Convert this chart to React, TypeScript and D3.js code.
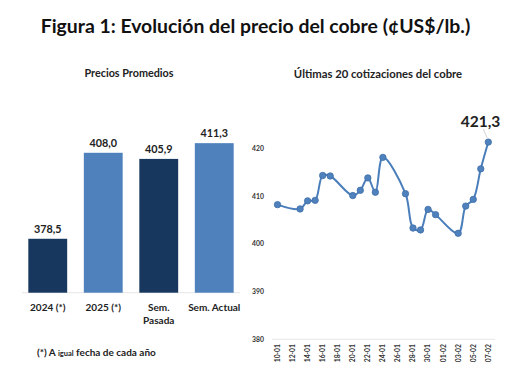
import React from "react";
import * as d3 from "d3";

const barCategories: string[][] = [["2024 (*)"], ["2025 (*)"], ["Sem.", "Pasada"], ["Sem. Actual"]];
const barValues = [378.5, 408.0, 405.9, 411.3];
const barColors = ["#17375E", "#4F81BD", "#17375E", "#4F81BD"];

const lineDates = [
  "2025-01-10", "2025-01-13", "2025-01-14", "2025-01-15", "2025-01-16", "2025-01-17",
  "2025-01-20", "2025-01-21", "2025-01-22", "2025-01-23", "2025-01-24",
  "2025-01-27", "2025-01-28", "2025-01-29", "2025-01-30", "2025-01-31",
  "2025-02-03", "2025-02-04", "2025-02-05", "2025-02-06", "2025-02-07",
];
const lineValues = [
  408.2, 407.3, 409.0, 409.1, 414.3, 414.2,
  410.1, 411.2, 413.8, 410.8, 418.1,
  410.5, 403.3, 402.9, 407.2, 406.1,
  402.2, 407.9, 409.3, 415.7, 421.3,
];
const yTicks = [380, 390, 400, 410, 420];
const xTickLabels = [
  "10-01", "12-01", "14-01", "16-01", "18-01", "20-01", "22-01", "24-01",
  "26-01", "28-01", "30-01", "01-02", "03-02", "05-02", "07-02",
];

const FONT = "Lato, 'Open Sans', sans-serif";

function parseTick(s: string): Date {
  const [dd, mm] = s.split("-").map(Number);
  return new Date(2025, mm - 1, dd);
}

export default function App() {
  const W = 510, H = 382;

  // Bar chart
  const xb = d3.scaleBand<number>().domain(d3.range(barValues.length)).range([20, 242]).paddingInner(0.3).paddingOuter(0.15);
  const yb = d3.scaleLinear().domain([360, 420]).range([292.7, 117.8]);
  const fmt = (v: number) => v.toFixed(1).replace(".", ",");

  // Line chart
  const parse = d3.timeParse("%Y-%m-%d");
  const dates = lineDates.map((d) => parse(d) as Date);
  const xl = d3.scaleTime().domain([new Date(2025, 0, 10), new Date(2025, 1, 7)]).range([277.5, 488.3]);
  const yl = d3.scaleLinear().domain([380, 420]).range([339.3, 148.3]);
  const line = d3.line<number>().x((_, i) => xl(dates[i])).y((v) => yl(v)).curve(d3.curveCatmullRom.alpha(0.5));
  const lastX = xl(dates[dates.length - 1]);
  const lastY = yl(lineValues[lineValues.length - 1]);

  return (
    <svg width={W} height={H} style={{ position: "absolute", left: 0, top: 0, background: "#fff" }} fontFamily={FONT}>
      <text x={255.5} y={32.5} textAnchor="middle" fontSize={19.4} fontWeight={700} fill="#111">
        Figura 1: Evolución del precio del cobre (¢US$/lb.)
      </text>

      {/* Left chart */}
      <text x={129} y={77} textAnchor="middle" fontSize={10.8} fontWeight={700} fill="#222">Precios Promedios</text>
      <line x1={22} x2={240} y1={yb(360)} y2={yb(360)} stroke="#e6e6e6" strokeWidth={1} />
      {barValues.map((v, i) => (
        <g key={i}>
          <rect x={xb(i)} y={yb(v)} width={xb.bandwidth()} height={yb(360) - yb(v)} fill={barColors[i]} />
          <text x={(xb(i) as number) + xb.bandwidth() / 2} y={yb(v) - 6} textAnchor="middle" fontSize={10.8} fontWeight={700} fill="#222">
            {fmt(v)}
          </text>
          {barCategories[i].map((t, j) => (
            <text key={j} x={(xb(i) as number) + xb.bandwidth() / 2} y={311 + j * 13} textAnchor="middle" fontSize={10} fontWeight={700} fill="#222">
              {t}
            </text>
          ))}
        </g>
      ))}
      <text x={37} y={356} fontSize={10} fontWeight={700} fill="#222">
        (*) A <tspan fontSize={7.5}>igual</tspan> fecha de cada año
      </text>

      {/* Right chart */}
      <text x={378} y={78} textAnchor="middle" fontSize={11.3} fontWeight={700} fill="#222">Últimas 20 cotizaciones del cobre</text>
      <line x1={272} x2={495} y1={yl(380)} y2={yl(380)} stroke="#e6e6e6" strokeWidth={1} />
      {yTicks.map((t) => (
        <text key={t} x={258} y={yl(t) + 2.5} textAnchor="middle" fontSize={6.8} fontWeight={700} fill="#333">{t}</text>
      ))}
      {xTickLabels.map((t) => {
        const x = xl(parseTick(t));
        return (
          <text key={t} transform={`translate(${x + 2.4},${344}) rotate(-90)`} textAnchor="end" fontSize={6.8} fontWeight={700} fill="#333">
            {t}
          </text>
        );
      })}
      <path d={line(lineValues) as string} fill="none" stroke="#4A7EBB" strokeWidth={2} />
      {lineValues.map((v, i) => (
        <circle key={i} cx={xl(dates[i])} cy={yl(v)} r={3.2} fill="#4F81BD" stroke="#3F6FA8" strokeWidth={0.8} />
      ))}
      <line x1={lastX - 5} y1={lastY - 13} x2={lastX - 1} y2={lastY - 4} stroke="#c8c8c8" strokeWidth={0.8} />
      <text x={480.5} y={127} textAnchor="middle" fontSize={15.5} fontWeight={700} fill="#222">{fmt(lineValues[lineValues.length - 1])}</text>
    </svg>
  );
}
